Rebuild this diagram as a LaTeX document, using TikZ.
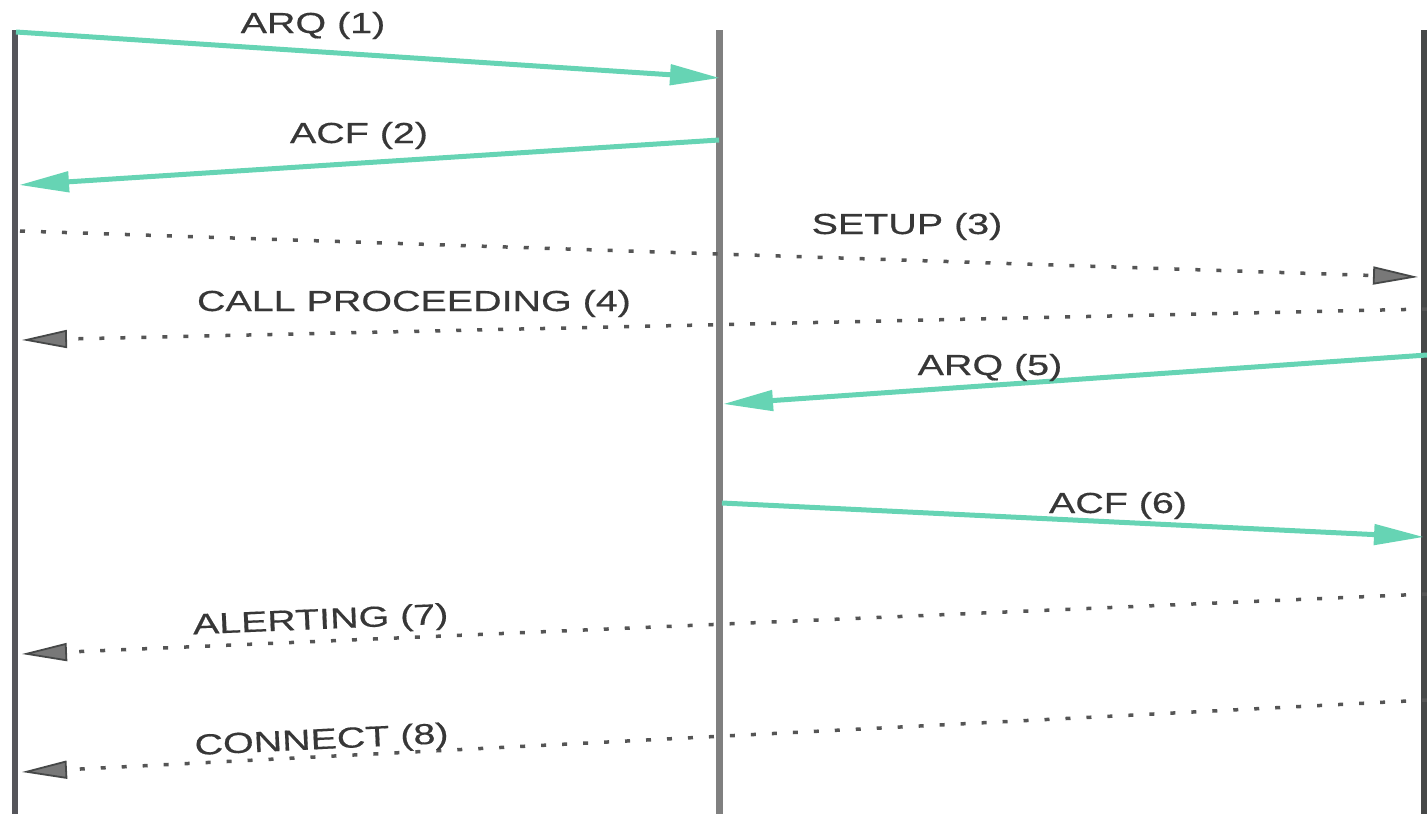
\documentclass[tikz,border=0pt]{standalone}
\usepackage{fontspec}
\setmainfont{Liberation Sans}
\newfontfamily\msgfamily[FakeBold=0.4]{Liberation Sans}
\usetikzlibrary{arrows.meta}
\definecolor{ras}{RGB}{102,212,180}
\definecolor{q931}{RGB}{85,85,85}
\definecolor{lifeA}{RGB}{85,85,90}
\definecolor{lifeB}{RGB}{128,128,128}
\definecolor{lifeC}{RGB}{70,72,72}
\definecolor{tipfill}{RGB}{120,120,120}
\definecolor{msgtext}{RGB}{55,55,55}
\newcommand{\msgfont}{\msgfamily\fontsize{29}{29}\selectfont}
\newcommand{\wide}[1]{\scalebox{1.36}[1]{#1}}
\tikzset{
  lifeline/.style={line width=7pt},
  rasmsg/.style={draw=ras, line width=5pt,
    -{Triangle[length=50pt,width=20pt,fill=ras]}},
  callmsg/.style={draw=q931, line width=3.5pt, dash pattern=on 5pt off 16pt,
    -{Triangle[length=45pt,width=18pt,fill=tipfill,color=lifeC,line width=1.8pt]}},
  msglabel/.style={anchor=base, inner sep=0pt, text=msgtext, font=\msgfont}
}
\begin{document}
\begin{tikzpicture}[x=1pt,y=-1pt]
\useasboundingbox (0,0) rectangle (1427,814);

% lifelines: endpoint, gatekeeper, endpoint
\coordinate (Ltop) at (15,30);   \coordinate (Lbot) at (15,814);
\coordinate (Mtop) at (719,30);  \coordinate (Mbot) at (719,814);
\coordinate (Rtop) at (1424,30); \coordinate (Rbot) at (1424,814);
\draw[lifeline, draw=lifeA, line width=6pt] (Ltop) -- (Lbot);
\draw[lifeline, draw=lifeB] (Mtop) -- (Mbot);
\draw[lifeline, draw=lifeC] (Rtop) -- (Rbot);

% message end points on the lifelines
\coordinate (m1a) at (16,32);    \coordinate (m1b) at (720,78);
\coordinate (m2a) at (719,140);  \coordinate (m2b) at (19,185);
\coordinate (m3a) at (20,231);   \coordinate (m3b) at (1418,277);
\coordinate (m4a) at (1427,309); \coordinate (m4b) at (22,340);
\coordinate (m5a) at (1427,355); \coordinate (m5b) at (723,404);
\coordinate (m6a) at (722,503);  \coordinate (m6b) at (1424,537);
\coordinate (m7a) at (1427,594); \coordinate (m7b) at (22,654);
\coordinate (m8a) at (1427,700); \coordinate (m8b) at (22,772);

% RAS messages (solid) and call signalling (dotted)
\draw[rasmsg]  (m1a) -- (m1b);
\draw[rasmsg]  (m2a) -- (m2b);
\draw[callmsg] (m3a) -- (m3b);
\draw[callmsg] (m4a) -- (m4b);
\draw[rasmsg]  (m5a) -- (m5b);
\draw[rasmsg]  (m6a) -- (m6b);
\draw[callmsg] (m7a) -- (m7b);
\draw[callmsg] (m8a) -- (m8b);

% labels
\node[msglabel] (t1) at (313,33)  {\wide{ARQ (1)}};
\node[msglabel] (t2) at (359,143) {\wide{ACF (2)}};
\node[msglabel] (t3) at (907,234) {\wide{SETUP (3)}};
\node[msglabel] (t4) at (414,311) {\wide{CALL PROCEEDING (4)}};
\node[msglabel] (t5) at (990,375) {\wide{ARQ (5)}};
\node[msglabel] (t6) at (1118,513) {\wide{ACF (6)}};
\node[msglabel, rotate=2.4] (t7) at (321,629) {\wide{ALERTING (7)}};
\node[msglabel, rotate=2.7] (t8) at (322,749) {\wide{CONNECT (8)}};
\end{tikzpicture}
\end{document}
